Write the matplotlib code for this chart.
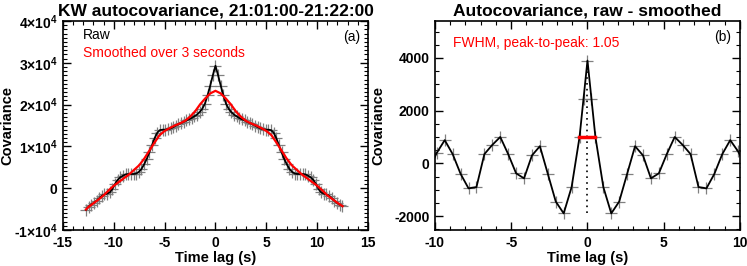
import numpy as np
import matplotlib
matplotlib.use("Agg")
import matplotlib.pyplot as plt
from matplotlib.ticker import MultipleLocator, FuncFormatter

plt.rcParams['font.family'] = ['Liberation Sans', 'DejaVu Sans']
plt.rcParams['mathtext.fontset'] = 'custom'
plt.rcParams['mathtext.rm'] = 'Liberation Sans'
plt.rcParams['mathtext.bf'] = 'Liberation Sans:bold'
plt.rcParams['axes.unicode_minus'] = False

# ---------------- data: panel (a) ----------------
raw_lag = np.round(np.arange(-49, 49) * 0.26, 2)  # sampling grid, -12.74 .. 12.48 s
raw_cov = np.array([
    -0.52, -0.44, -0.39, -0.35, -0.30, -0.24, -0.18, -0.15, -0.13,
    -0.10, -0.02, 0.10, 0.20, 0.26, 0.30, 0.33, 0.34, 0.34, 0.34,
    0.35, 0.39, 0.46, 0.57, 0.70, 0.86, 1.03, 1.20, 1.33, 1.39,
    1.40, 1.40, 1.41, 1.43, 1.46, 1.50, 1.53, 1.56, 1.59, 1.62,
    1.65, 1.68, 1.72, 1.76, 1.82, 1.90, 2.02, 2.22, 2.45, 2.70,
    2.93,
    2.70, 2.45, 2.22, 2.02, 1.90, 1.82, 1.76, 1.72, 1.68, 1.65,
    1.62, 1.59, 1.56, 1.53, 1.50, 1.46, 1.43, 1.41, 1.40, 1.40,
    1.39, 1.33, 1.20, 1.03, 0.86, 0.70, 0.57, 0.46, 0.39, 0.35,
    0.34, 0.34, 0.34, 0.33, 0.30, 0.26, 0.20, 0.10, -0.02, -0.10,
    -0.13, -0.15, -0.18, -0.24, -0.30, -0.35, -0.39, -0.43,
]) * 1e4

smooth_lag = np.array([-12.74, -12.5, -12.0, -11.5, -11.0, -10.5, -10.0, -9.5, -9.0, -8.5,
                       -8.0, -7.5, -7.0, -6.5, -6.0, -5.5, -5.0, -4.5, -4.0, -3.5,
                       -3.0, -2.5, -2.0, -1.5, -1.0, -0.5, 0.0, 0.5, 1.0, 1.5,
                       2.0, 2.5, 3.0, 3.5, 4.0, 4.5, 5.0, 5.5, 6.0, 6.5,
                       7.0, 7.5, 8.0, 8.5, 9.0, 9.5, 10.0, 10.5, 11.0, 11.5,
                       12.0, 12.5])
smooth_cov = np.array([-0.51, -0.45, -0.36, -0.27, -0.17, -0.05, 0.06, 0.15, 0.24, 0.33,
                       0.44, 0.55, 0.71, 0.90, 1.09, 1.27, 1.37, 1.44, 1.50, 1.55,
                       1.61, 1.71, 1.84, 2.01, 2.15, 2.27, 2.33, 2.27, 2.15, 2.01,
                       1.84, 1.71, 1.61, 1.55, 1.50, 1.44, 1.37, 1.27, 1.09, 0.90,
                       0.71, 0.55, 0.44, 0.33, 0.24, 0.15, 0.06, -0.05, -0.17, -0.26,
                       -0.35, -0.43]) * 1e4

# ---------------- data: panel (b) ----------------
res_lag = np.array([-10.40, -9.88, -9.36, -8.84, -8.32, -7.80, -7.28, -6.76, -6.24, -5.72,
                    -5.20, -4.68, -4.16, -3.64, -3.12, -2.60, -2.08, -1.56, -1.04, -0.52,
                    -0.26, 0.0, 0.26,
                    0.52, 1.04, 1.56, 2.08, 2.60, 3.12, 3.64, 4.16, 4.68, 5.20,
                    5.72, 6.24, 6.76, 7.28, 7.80, 8.32, 8.84, 9.36, 9.88, 10.40])
res_cov = np.array([-250, 400, 880, 350, -400, -950, -900, 350, 700, 1000,
                    350, -380, -570, 300, 650, -400, -1450, -1900, -900, 1000,
                    2450, 3900, 2450,
                    1000, -900, -1900, -1450, -400, 650, 300, -570, -380, 350,
                    1000, 700, 350, -900, -950, -400, 350, 880, 450, -150])
fwhm = 1.05
half_level = 1000

# ---------------- figure ----------------
fig = plt.figure(figsize=(7.47, 2.66), dpi=100)
ax1 = fig.add_axes([0.0843, 0.1353, 0.4083, 0.7857])
ax2 = fig.add_axes([0.5823, 0.1353, 0.4083, 0.7857])

mk = dict(marker='+', ls='none', color='#808080', ms=8, mew=0.9, zorder=2)

ax1.plot(raw_lag, raw_cov, **mk)
ax1.plot(raw_lag, raw_cov, color='black', lw=1.3, zorder=3)
ax1.plot(smooth_lag, smooth_cov, color='red', lw=1.6, zorder=4)
ax1.set_xlim(-15, 15)
ax1.set_ylim(-1e4, 4e4)
ax1.xaxis.set_major_locator(MultipleLocator(5))
ax1.xaxis.set_minor_locator(MultipleLocator(1))
ax1.yaxis.set_major_locator(MultipleLocator(1e4))
ax1.yaxis.set_minor_locator(MultipleLocator(1e3))


def sci(v, pos):
    m = int(round(v / 1e4))
    if m == 0:
        return '0'
    return f'{m}\u00d710$^{{\\mathbf{{4}}}}$'


ax1.yaxis.set_major_formatter(FuncFormatter(sci))
ax1.set_title('KW autocovariance, 21:01:00-21:22:00', fontsize=12.5, fontweight='bold', pad=4)
ax1.set_xlabel('Time lag (s)', fontsize=10.5, fontweight='bold', labelpad=1)
ax1.set_ylabel('Covariance', fontsize=10.5, fontweight='bold')
ax1.yaxis.set_label_coords(-0.158, 0.5)
ax1.text(0.066, 0.935, 'Raw', transform=ax1.transAxes, fontsize=10, color='black', va='center')
ax1.text(0.066, 0.847, 'Smoothed over 3 seconds', transform=ax1.transAxes, fontsize=10,
         color='red', va='center')
ax1.text(0.975, 0.925, '(a)', transform=ax1.transAxes, fontsize=10, ha='right', va='center')

ax2.plot(res_lag, res_cov, **mk)
ax2.plot(res_lag, res_cov, color='black', lw=1.3, zorder=3)
ax2.plot([0, 0], [res_cov.min(), res_cov.max()], ls=(0, (1, 2.5)), color='black', lw=1.2, zorder=4)
ax2.plot([-fwhm / 2, fwhm / 2], [half_level, half_level], color='red', lw=2.5, zorder=5)
ax2.set_xlim(-10, 10)
ax2.set_ylim(-2530, 5400)
ax2.xaxis.set_major_locator(MultipleLocator(5))
ax2.xaxis.set_minor_locator(MultipleLocator(1))
ax2.yaxis.set_major_locator(MultipleLocator(2000))
ax2.yaxis.set_minor_locator(MultipleLocator(500))
ax2.set_title('Autocovariance, raw - smoothed', fontsize=12.5, fontweight='bold', pad=4)
ax2.set_xlabel('Time lag (s)', fontsize=10.5, fontweight='bold', labelpad=1)
ax2.set_ylabel('Covariance', fontsize=10.5, fontweight='bold')
ax2.yaxis.set_label_coords(-0.164, 0.5)
ax2.text(0.059, 0.895, f'FWHM, peak-to-peak: {fwhm:.2f}', transform=ax2.transAxes,
         fontsize=10, color='red', va='center')
ax2.text(0.97, 0.925, '(b)', transform=ax2.transAxes, fontsize=10, ha='right', va='center')

for ax in (ax1, ax2):
    ax.tick_params(which='both', direction='in', top=True, right=True)
    ax.tick_params(which='major', length=6, width=1.0, labelsize=10, pad=4)
    ax.tick_params(which='minor', length=3, width=0.8)
    for lab in ax.get_xticklabels() + ax.get_yticklabels():
        lab.set_fontweight('bold')
    for s in ax.spines.values():
        s.set_linewidth(1.2)

fig.savefig('out.png', dpi=100)
